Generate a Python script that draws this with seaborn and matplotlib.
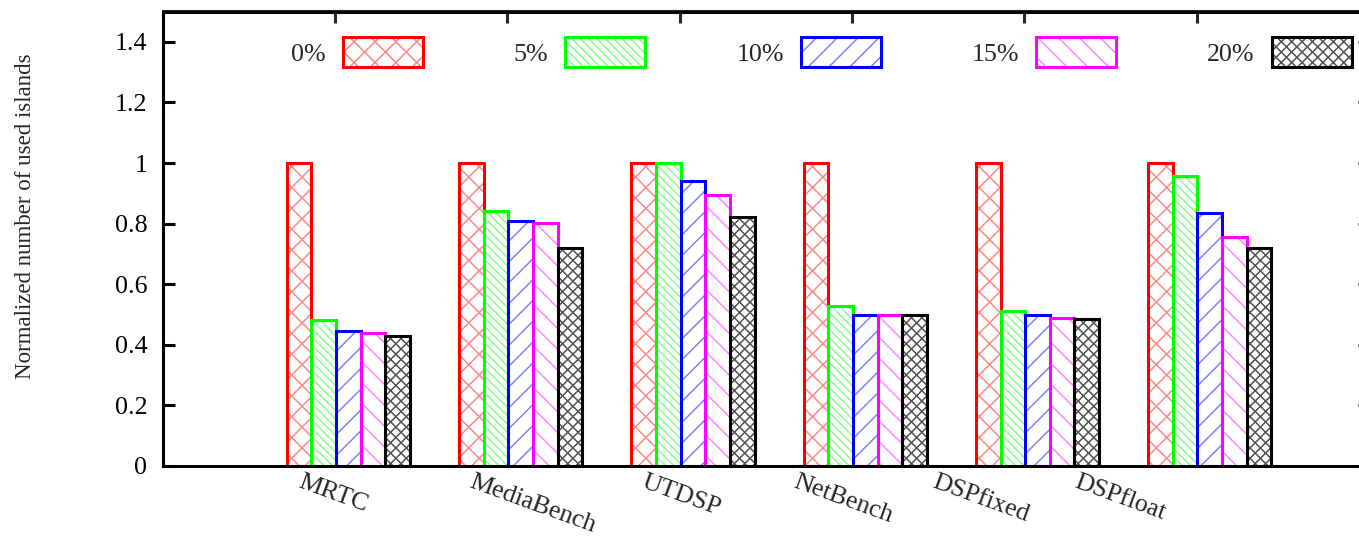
import numpy as np
import pandas as pd
import matplotlib
matplotlib.use("Agg")
import matplotlib.pyplot as plt
import seaborn as sns
from matplotlib import patheffects as pe
from matplotlib.ticker import FuncFormatter

# Benchmarks suites and duplication thresholds
benchmarks = ["MRTC", "MediaBench", "UTDSP", "NetBench", "DSPfixed", "DSPfloat"]
thresholds = ["0%", "5%", "10%", "15%", "20%"]

# Normalized number of used islands per threshold
islands_0 = [1.00, 1.00, 1.00, 1.00, 1.00, 1.00]
islands_5 = [0.481, 0.84, 1.00, 0.528, 0.513, 0.957]
islands_10 = [0.446, 0.81, 0.94, 0.50, 0.50, 0.834]
islands_15 = [0.44, 0.802, 0.895, 0.50, 0.49, 0.757]
islands_20 = [0.43, 0.72, 0.821, 0.498, 0.485, 0.72]

edge_colors = ["#ff0000", "#00ff00", "#0000ff", "#ff00ff", "#000000"]
hatch_colors = ["#ff8a8a", "#8cff8c", "#8484ff", "#ff8aff", "#555555"]
hatches = ["xx", "\\" * 5, "//", "\\\\", "xxxx"]

df = pd.DataFrame({
    "benchmark": np.tile(benchmarks, len(thresholds)),
    "threshold": np.repeat(thresholds, len(benchmarks)),
    "islands": np.concatenate([islands_0, islands_5, islands_10, islands_15, islands_20]),
})

sns.set_style("ticks")
plt.rcParams["font.family"] = ["Liberation Serif", "DejaVu Serif"]
plt.rcParams["hatch.linewidth"] = 0.7
plt.rcParams["axes.linewidth"] = 1.75

W, H, DPI = 1359, 536, 125
fig = plt.figure(figsize=(W / DPI, H / DPI), dpi=DPI)
ax = fig.add_axes([163 / W, 70 / H, 1207 / W, 454.5 / H])

sns.barplot(data=df, x="benchmark", y="islands", hue="threshold",
            order=benchmarks, hue_order=thresholds, palette=edge_colors,
            width=0.715, fill=False, legend=False, ax=ax)

# hatched bodies in a light tint, crisp outline stroked on top
for cont, ec, hc, hatch in zip(ax.containers, edge_colors, hatch_colors, hatches):
    for bar in cont.patches:
        bar.set_facecolor("none")
        bar.set_edgecolor(hc)
        bar.set_linewidth(0)
        bar.set_hatch(hatch)
        bar.set_joinstyle("miter")
        bar.set_path_effects([pe.Normal(),
                              pe.Stroke(linewidth=1.75, foreground=ec)])

FS = 15
ax.set_xlim(-1.076, 5.93)
ax.set_ylim(0, 1.5)
ax.set_yticks(np.arange(0, 1.41, 0.2))
ax.yaxis.set_major_formatter(FuncFormatter(lambda v, _: f"{v:g}"))
ax.tick_params(axis="y", direction="in", length=7, width=1.75, pad=9,
               labelsize=FS, right=True, colors="black")

# category labels, slanted below the axis
label_pos = np.arange(len(benchmarks)) + np.array([-0.26, -0.27, -0.27, -0.39, -0.58, -0.76])
ax.set_xticks(label_pos)
ax.set_xticklabels(benchmarks, rotation=-20, ha="left", va="top",
                   rotation_mode="anchor", fontsize=FS)
ax.tick_params(axis="x", length=0, pad=3)
ax.set_xlabel("")

top = ax.secondary_xaxis("top")
top.set_xticks(np.arange(len(benchmarks)) - 0.077)
top.set_xticklabels([])
top.tick_params(direction="in", length=7, width=1.75)
top.spines["top"].set_linewidth(1.75)

for side in ["left", "right", "top", "bottom"]:
    ax.spines[side].set_visible(True)
    ax.spines[side].set_color("black")
    ax.spines[side].set_linewidth(1.75)

ax.set_ylabel("Normalized number of used islands", fontsize=13.2)
ax.yaxis.set_label_coords((36 - 163) / 1207, (466 - 216) / 454.5)

fs = FS * DPI / 72
hh = (30 / fs - 0.245) / 0.65
ax.legend(handles=ax.containers, labels=thresholds, ncol=5, markerfirst=False,
          frameon=False, fontsize=FS, loc="upper left",
          bbox_to_anchor=(291 / W, 1 - 37 / H), bbox_transform=fig.transFigure,
          borderpad=0, borderaxespad=0, handlelength=80 / fs, handleheight=hh,
          handletextpad=17 / fs, columnspacing=91 / fs)

fig.savefig("out.png", dpi=DPI)
